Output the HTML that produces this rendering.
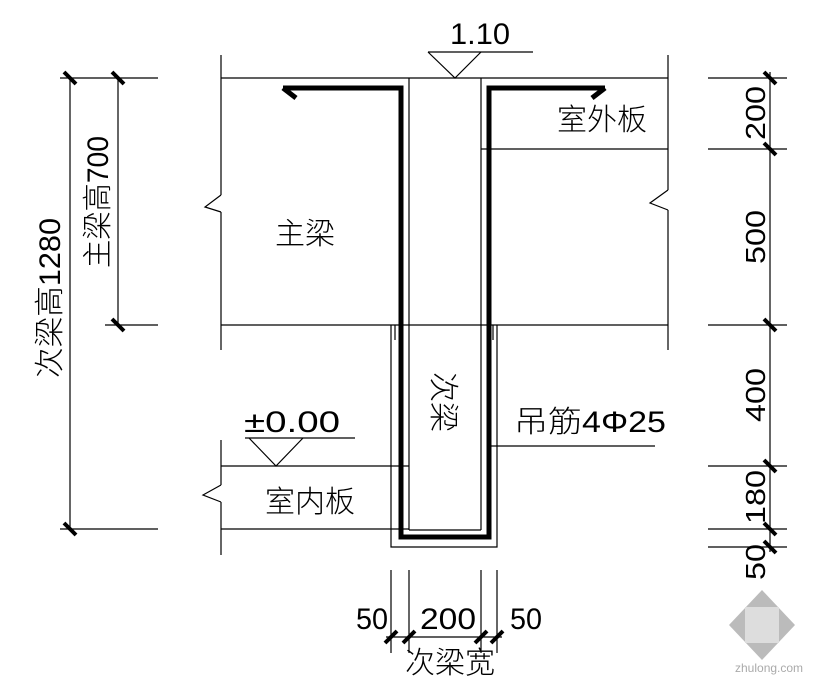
<!DOCTYPE html>
<html><head><meta charset="utf-8"><style>
html,body{margin:0;padding:0;background:#fff;width:815px;height:695px;overflow:hidden}
text{font-family:"Liberation Sans","Noto Sans CJK SC",sans-serif;fill:#000;font-weight:300}
</style></head><body>
<svg width="815" height="695" viewBox="0 0 815 695" xmlns="http://www.w3.org/2000/svg">
<g stroke="#000" stroke-width="1.2" fill="none">
<line x1="221" y1="55" x2="221" y2="195"/>
<polyline points="221,195 205,207 221,212"/>
<line x1="221" y1="212" x2="221" y2="350"/>
<line x1="668" y1="55" x2="668" y2="190"/>
<polyline points="668,190 650,203 668,210"/>
<line x1="668" y1="210" x2="668" y2="350"/>
<line x1="221" y1="78" x2="668" y2="78"/>
<line x1="221" y1="325" x2="668" y2="325"/>
<line x1="481" y1="149" x2="668" y2="149"/>
<line x1="409" y1="78" x2="409" y2="530"/>
<line x1="481" y1="78" x2="481" y2="530"/>
<line x1="409" y1="530" x2="481" y2="530"/>
<polyline points="391,325 391,547 497,547 497,325"/>
<line x1="395" y1="325" x2="395" y2="340"/>
<line x1="493" y1="325" x2="493" y2="340"/>
<line x1="221" y1="440" x2="221" y2="485"/>
<polyline points="221,485 203,495 221,502"/>
<line x1="221" y1="502" x2="221" y2="555"/>
<line x1="221" y1="466" x2="409" y2="466"/>
<line x1="221" y1="529" x2="409" y2="529"/>
<line x1="428" y1="52" x2="533" y2="52"/>
<polyline points="428,52 455,78 481,52"/>
<line x1="245" y1="438" x2="355" y2="438"/>
<polyline points="249,438 276,466 303,438"/>
<line x1="490" y1="446" x2="655" y2="446"/>
<line x1="70" y1="78" x2="70" y2="529"/>
<line x1="118" y1="78" x2="118" y2="325"/>
<line x1="60" y1="78" x2="158" y2="78"/>
<line x1="105" y1="325" x2="158" y2="325"/>
<line x1="60" y1="529" x2="158" y2="529"/>
<line x1="770" y1="72" x2="770" y2="552"/>
<line x1="708" y1="78" x2="787" y2="78"/>
<line x1="708" y1="149" x2="787" y2="149"/>
<line x1="708" y1="325" x2="787" y2="325"/>
<line x1="708" y1="466" x2="787" y2="466"/>
<line x1="708" y1="529" x2="787" y2="529"/>
<line x1="708" y1="547" x2="787" y2="547"/>
<line x1="391" y1="570" x2="391" y2="653"/>
<line x1="409" y1="570" x2="409" y2="653"/>
<line x1="481" y1="570" x2="481" y2="653"/>
<line x1="497" y1="570" x2="497" y2="653"/>
<line x1="386" y1="637" x2="502" y2="637"/>
</g>
<polyline points="283,88 401,88 401,537 489,537 489,88 605,88" stroke="#000" stroke-width="5" fill="none"/>
<line x1="283" y1="88" x2="296" y2="98" stroke="#000" stroke-width="5"/>
<line x1="605" y1="88" x2="592" y2="98" stroke="#000" stroke-width="5"/>
<g stroke="#000" stroke-width="4">
<line x1="64" y1="72" x2="76" y2="84"/><line x1="112" y1="72" x2="124" y2="84"/>
<line x1="112" y1="319" x2="124" y2="331"/><line x1="64" y1="523" x2="76" y2="535"/>
<line x1="764" y1="72" x2="776" y2="84"/><line x1="764" y1="143" x2="776" y2="155"/>
<line x1="764" y1="319" x2="776" y2="331"/><line x1="764" y1="460" x2="776" y2="472"/>
<line x1="764" y1="523" x2="776" y2="535"/><line x1="764" y1="541" x2="776" y2="553"/>
<line x1="385" y1="643" x2="397" y2="631"/><line x1="403" y1="643" x2="415" y2="631"/>
<line x1="475" y1="643" x2="487" y2="631"/><line x1="491" y1="643" x2="503" y2="631"/>
</g>
<text x="450" y="44" font-size="30" textLength="60" lengthAdjust="spacingAndGlyphs">1.10</text>
<text x="557" y="130" font-size="30">室外板</text>
<text x="275" y="244" font-size="30">主梁</text>
<text x="0" y="0" font-size="30" transform="translate(433,372) rotate(90)">次梁</text>
<text x="244" y="432" font-size="30" textLength="96" lengthAdjust="spacingAndGlyphs">±0.00</text>
<text x="514" y="432" font-size="30" textLength="152" lengthAdjust="spacingAndGlyphs">吊筋4Φ25</text>
<text x="265" y="512" font-size="30">室内板</text>
<text x="356" y="629" font-size="30" textLength="32" lengthAdjust="spacingAndGlyphs">50</text>
<text x="420" y="629" font-size="30" textLength="56" lengthAdjust="spacingAndGlyphs">200</text>
<text x="510" y="629" font-size="30" textLength="32" lengthAdjust="spacingAndGlyphs">50</text>
<text x="405" y="673" font-size="30">次梁宽</text>
<text font-size="30" transform="translate(60,378) rotate(-90)" textLength="160" lengthAdjust="spacingAndGlyphs">次梁高1280</text>
<text font-size="30" transform="translate(108,268) rotate(-90)" textLength="132" lengthAdjust="spacingAndGlyphs">主梁高700</text>
<text font-size="28" transform="translate(765,140) rotate(-90)" textLength="54" lengthAdjust="spacingAndGlyphs">200</text>
<text font-size="28" transform="translate(765,264) rotate(-90)" textLength="54" lengthAdjust="spacingAndGlyphs">500</text>
<text font-size="28" transform="translate(765,422) rotate(-90)" textLength="54" lengthAdjust="spacingAndGlyphs">400</text>
<text font-size="28" transform="translate(765,524) rotate(-90)" textLength="54" lengthAdjust="spacingAndGlyphs">180</text>
<text font-size="28" transform="translate(765,580) rotate(-90)" textLength="36" lengthAdjust="spacingAndGlyphs">50</text>
<g fill="#bbb"><polygon points="762,590 795,625 762,660 729,625"/></g>
<g fill="#ddd"><rect x="745" y="607" width="34" height="36"/></g>
<text x="735" y="672" font-size="12" style="fill:#aaa">zhulong.com</text>
</svg>
</body></html>
